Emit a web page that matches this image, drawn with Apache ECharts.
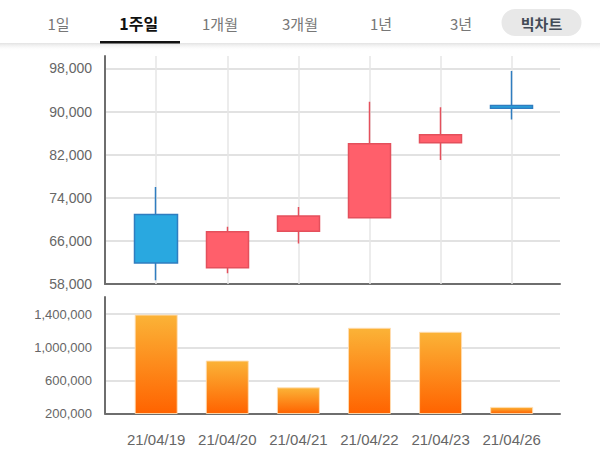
<!DOCTYPE html>
<html>
<head>
<meta charset="utf-8">
<script src="https://cdn.jsdelivr.net/npm/echarts@6/dist/echarts.min.js"></script>
<style>
html,body{margin:0;padding:0;background:#fff;}
#chart{width:600px;height:469px;}
</style>
</head>
<body>
<div id="chart"></div>
<script>
const dates = ['21/04/19','21/04/20','21/04/21','21/04/22','21/04/23','21/04/26'];
const opens = [70900, 61000, 67800, 70300, 84200, 91100];
const closes = [61900, 67700, 70600, 84000, 85700, 90600];
const lows = [58700, 60000, 65500, 70300, 81000, 88500];
const highs = [76000, 68600, 72300, 91800, 90800, 97500];
const volumes = [1395000, 840000, 516000, 1236000, 1188000, 280000];
const tabs = ['1일','1주일','1개월','3개월','1년','3년'];
const bigChartLabel = '빅차트';

const priceMin = 58000, priceMax = 100300, priceStep = 8000;
const volMin = 200000, volMax = 1608000, volStep = 400000;

const candleData = dates.map((d, i) => [i, opens[i], closes[i], lows[i], highs[i]]);
const volData = dates.map((d, i) => [i, volumes[i]]);

const fmt = v => v.toLocaleString('en-US');
const gridCol = '#d9d9d9';
const axisCol = '#6e6e6e';

const tabX = [58.5, 138.7, 220, 300, 381, 461];
const graphics = [
  { type: 'rect', shape: { x: 0, y: 43, width: 600, height: 8 }, silent: true,
    style: { fill: { type: 'linear', x: 0, y: 0, x2: 0, y2: 1, colorStops: [
      { offset: 0, color: '#e2e2e2' }, { offset: 1, color: 'rgba(255,255,255,0)' }] } } },
  { type: 'rect', shape: { x: 100, y: 41, width: 80, height: 2.5 }, style: { fill: '#111' } },
  { type: 'rect', shape: { x: 501.5, y: 9, width: 80, height: 27, r: 13.5 }, style: { fill: '#e8e8e8' } },
  { type: 'text', x: 541.5, y: 23, style: { text: bigChartLabel, fill: '#444b57', font: 'bold 15px "Noto Sans CJK KR"', align: 'center', verticalAlign: 'middle' } }
];
tabs.forEach((t, i) => {
  graphics.push({ type: 'text', x: tabX[i], y: 23, style: {
    text: t, fill: i === 1 ? '#111' : '#777',
    font: (i === 1 ? 'bold 16px' : '15px') + ' "Noto Sans CJK KR"', align: 'center', verticalAlign: 'middle' } });
});

const xCommon = {
  type: 'value', min: -0.72, max: 5.68, minInterval: 1, maxInterval: 1,
  axisLine: { show: true, onZero: false, lineStyle: { color: axisCol, width: 2 } },
  axisTick: { show: false }, splitLine: { show: false }
};

const chart = echarts.init(document.getElementById('chart'), null, { renderer: 'svg' });
chart.setOption({
  animation: false,
  backgroundColor: '#fff',
  graphic: graphics,
  grid: [
    { left: 105, top: 56, width: 455, height: 228 },
    { left: 105, top: 297, width: 455, height: 116.5 }
  ],
  xAxis: [
    Object.assign({}, xCommon, { gridIndex: 0, axisLabel: { show: false } }),
    Object.assign({}, xCommon, { gridIndex: 1, axisLabel: {
      show: true, margin: 18, color: '#666', fontSize: 15, fontFamily: 'Liberation Sans',
      showMinLabel: false, showMaxLabel: false,
      formatter: v => (Number.isInteger(v) && dates[v] !== undefined) ? dates[v] : ''
    } })
  ],
  yAxis: [
    { type: 'value', gridIndex: 0, min: priceMin, max: priceMax, interval: priceStep,
      axisLine: { show: true, onZero: false, lineStyle: { color: axisCol, width: 2 } },
      axisTick: { show: false },
      axisLabel: { margin: 13, color: '#666', fontSize: 14, fontFamily: 'Liberation Sans', showMaxLabel: false,
        formatter: v => ((v - priceMin) % priceStep === 0) ? fmt(v) : '' },
      splitLine: { show: true, lineStyle: { color: [gridCol, gridCol, gridCol, gridCol, gridCol, gridCol, 'rgba(0,0,0,0)'], width: 1.5 } }
    },
    { type: 'value', gridIndex: 1, min: volMin, max: volMax, interval: volStep,
      axisLine: { show: true, onZero: false, lineStyle: { color: axisCol, width: 2 } },
      axisTick: { show: false },
      axisLabel: { margin: 13, color: '#666', fontSize: 13, fontFamily: 'Liberation Sans', showMaxLabel: false,
        formatter: v => ((v - volMin) % volStep === 0) ? fmt(v) : '' },
      splitLine: { show: true, lineStyle: { color: [gridCol, gridCol, gridCol, gridCol, 'rgba(0,0,0,0)'], width: 1.5 } }
    }
  ],
  series: [
    { type: 'candlestick', xAxisIndex: 0, yAxisIndex: 0, barWidth: 43,
      encode: { x: 0, y: [1, 2, 3, 4] },
      data: candleData,
      itemStyle: { color: '#ff5f6b', borderColor: '#e4505c', color0: '#29a8e0', borderColor0: '#2f7dc0', borderWidth: 1.5 },
      markLine: { silent: true, symbol: 'none', z: 1, label: { show: false },
        lineStyle: { color: '#e6e6e6', width: 1.5, type: 'solid' },
        data: dates.map((d, i) => ({ xAxis: i })) }
    },
    { type: 'bar', xAxisIndex: 1, yAxisIndex: 1, barWidth: 43,
      data: volData,
      itemStyle: {
        color: { type: 'linear', x: 0, y: 0, x2: 0, y2: 1, colorStops: [
          { offset: 0, color: '#fbb337' }, { offset: 1, color: '#ff6300' }] },
        borderColor: 'rgba(255,222,180,0.9)', borderWidth: 1
      }
    }
  ]
});
</script>
</body>
</html>
